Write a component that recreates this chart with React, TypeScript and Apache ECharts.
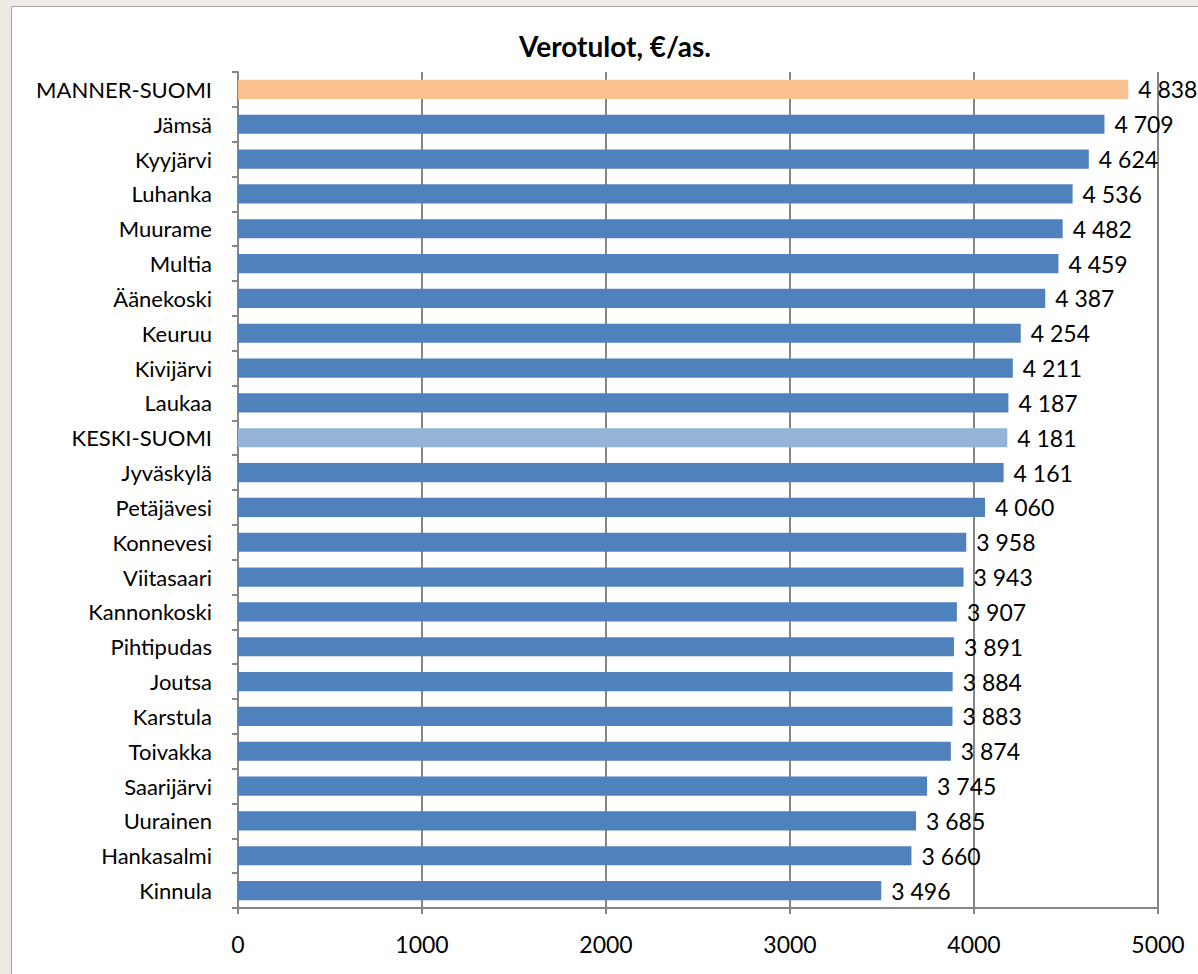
import React, { useEffect, useRef } from "react";
import * as echarts from "echarts";

const categories = [
  "MANNER-SUOMI", "Jämsä", "Kyyjärvi", "Luhanka", "Muurame", "Multia", "Äänekoski",
  "Keuruu", "Kivijärvi", "Laukaa", "KESKI-SUOMI", "Jyväskylä", "Petäjävesi", "Konnevesi",
  "Viitasaari", "Kannonkoski", "Pihtipudas", "Joutsa", "Karstula", "Toivakka",
  "Saarijärvi", "Uurainen", "Hankasalmi", "Kinnula",
];
const values = [
  4838, 4709, 4624, 4536, 4482, 4459, 4387, 4254, 4211, 4187, 4181, 4161, 4060, 3958,
  3943, 3907, 3891, 3884, 3883, 3874, 3745, 3685, 3660, 3496,
];
const xTicks = [0, 1000, 2000, 3000, 4000, 5000];
const title = "Verotulot, €/as.";

const colorFor = (name: string) =>
  name === "MANNER-SUOMI" ? "#fac090" : name === "KESKI-SUOMI" ? "#95b3d7" : "#4f81bd";

const fmt = (v: number) => {
  const s = String(v);
  return s.length > 3 ? s.slice(0, s.length - 3) + " " + s.slice(-3) : s;
};

export default function App() {
  const ref = useRef<HTMLDivElement>(null);
  useEffect(() => {
    if (!ref.current) return;
    const chart = echarts.init(ref.current, undefined, { renderer: "svg" });
    const font = "Lato, 'Open Sans', sans-serif";
    chart.setOption({
      animation: false,
      backgroundColor: "#eeebe6",
      textStyle: { fontFamily: font },
      graphic: [
        {
          type: "rect",
          shape: { x: 11.5, y: 6.5, width: 1300, height: 1100 },
          style: { fill: "#ffffff", stroke: "#a6a6a6", lineWidth: 1 },
          z: -10,
        },
      ],
      title: {
        text: title,
        left: 610,
        top: 27,
        textAlign: "center",
        textStyle: { fontFamily: font, fontSize: 28, fontWeight: "bold", color: "#000" },
      },
      grid: { left: 238, right: 40, top: 72, bottom: 66, containLabel: false },
      xAxis: {
        type: "value",
        min: xTicks[0],
        max: xTicks[xTicks.length - 1],
        interval: 1000,
        axisLine: { show: true, lineStyle: { color: "#868686", width: 2 } },
        axisTick: { show: true, length: 6, lineStyle: { color: "#868686", width: 2 } },
        axisLabel: {
          color: "#000",
          fontSize: 23,
          margin: 24,
          fontFamily: font,
          formatter: (v: number) => String(v),
        },
        splitLine: { show: true, lineStyle: { color: "#868686", width: 2 } },
      },
      yAxis: {
        type: "category",
        data: categories,
        inverse: true,
        axisLine: { show: true, lineStyle: { color: "#868686", width: 2 } },
        axisTick: { show: true, length: 6, lineStyle: { color: "#868686", width: 2 } },
        axisLabel: { color: "#000", fontSize: 22, margin: 26, fontFamily: font },
      },
      series: [
        {
          type: "bar",
          data: values.map((v, i) => ({
            value: v,
            itemStyle: { color: colorFor(categories[i]) },
          })),
          barWidth: "55%",
          label: {
            show: true,
            position: "right",
            distance: 10,
            color: "#000",
            fontSize: 23,
            fontFamily: font,
            formatter: (p: any) => fmt(p.value),
          },
        },
      ],
    });
    return () => chart.dispose();
  }, []);
  return (
    <div style={{ position: "fixed", left: 0, top: 0, width: 1198, height: 974, overflow: "hidden" }}>
      <div ref={ref} style={{ width: 1198, height: 974 }} />
    </div>
  );
}
